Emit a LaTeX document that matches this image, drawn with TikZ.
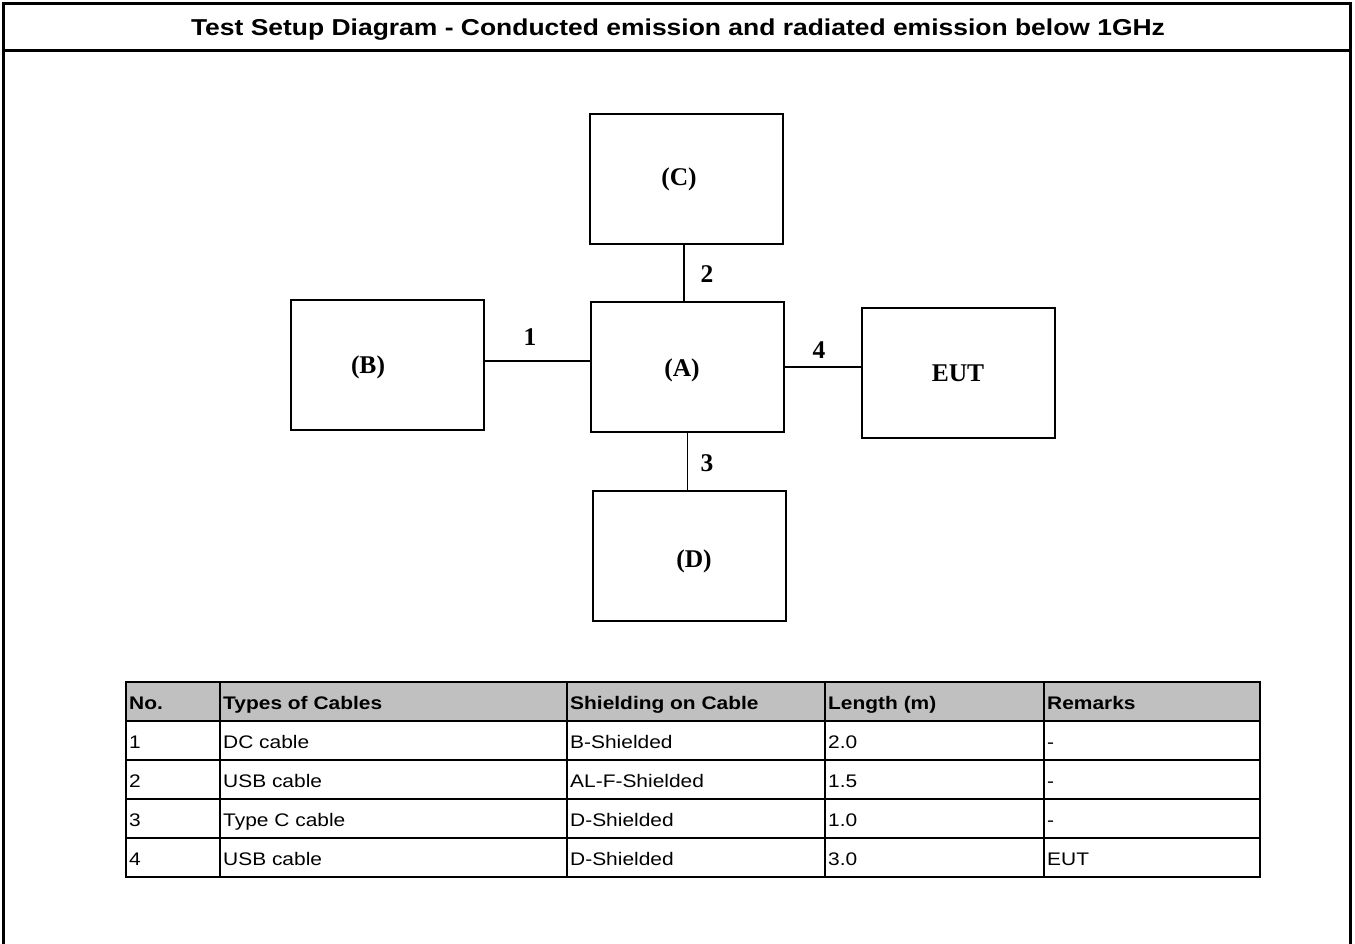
\documentclass[tikz,border=0pt]{standalone}
\usepackage{fontspec}
\setmainfont{Liberation Sans}[FakeStretch=1.15]
\newfontfamily\boxfont{Liberation Serif}
\usetikzlibrary{positioning,calc}
\definecolor{headgray}{RGB}{192,192,192}

\begin{document}
\begin{tikzpicture}[x=1pt,y=-1pt,
  unit/.style={draw, line width=2pt, minimum width=193pt, minimum height=130pt, inner sep=0pt},
  cable/.style={line width=1.6pt},
  tag/.style={inner sep=0pt, font=\boxfont\bfseries\fontsize{25.5}{30}\selectfont},
  rule/.style={line width=2pt},
  cell/.style={anchor=base west, inner sep=0pt, font=\fontsize{18.2}{22}\selectfont},
  headcell/.style={cell, font=\bfseries\fontsize{18.2}{22}\selectfont}]
\useasboundingbox (0,0) rectangle (1355,943);

% Frame and title
\draw[line width=3pt] (3,945) -- (3,3) -- (1350,3) -- (1350,945);
\draw[line width=3pt] (3,50) -- (1350,50);
\node[anchor=base, font=\bfseries\fontsize{23}{27}\selectfont] (title) at (678,35)
  {Test Setup Diagram - Conducted emission and radiated emission below 1GHz};

% Units
\node[unit] (C) at (686,179) {};
\node[unit] (B) at (387,365) {};
\node[unit] (A) at (687.5,367) {};
\node[unit] (EUT) at (958.5,373) {};
\node[unit] (D) at (689.5,555.5) {};

\node[tag] (Ctxt) at (679,179) {(C)};
\node[tag] (Btxt) at (368,367) {(B)};
\node[tag] (Atxt) at (682,370) {(A)};
\node[tag] (EUTtxt) at (958,373) {EUT};
\node[tag] (Dtxt) at (694,561) {(D)};

% Cables
\draw[cable] ([yshift=4]B.east) -- ([yshift=4]B.east -| A.west);
\draw[cable] ([xshift=-2]C.south) -- ([xshift=-2]C.south |- A.north);
\draw[cable] (A.south) -- (A.south |- D.north);
\draw[cable] (A.east) -- (A.east -| EUT.west);

\node[tag] (n1) at (530,337) {1};
\node[tag] (n2) at (707,274) {2};
\node[tag] (n3) at (707,463) {3};
\node[tag] (n4) at (819,350) {4};

% Cable table
\fill[headgray] (126,682) rectangle (1260,721);
\foreach \y in {682,721,...,877}
  \draw[rule] (125,\y) -- (1261,\y);
\foreach \x in {126,220,567,825,1044,1260}
  \draw[rule] (\x,682) -- (\x,877);

\node[headcell] (h1) at (129,709) {No.};
\node[headcell] (h2) at (223,709) {Types of Cables};
\node[headcell] (h3) at (570,709) {Shielding on Cable};
\node[headcell] (h4) at (828,709) {Length (m)};
\node[headcell] (h5) at (1047,709) {Remarks};

\foreach \no/\type/\shield/\len/\rem [count=\r] in
  {1/DC cable/B-Shielded/2.0/-,
   2/USB cable/AL-F-Shielded/1.5/-,
   3/Type C cable/D-Shielded/1.0/-,
   4/USB cable/D-Shielded/3.0/EUT}
{
  \node[cell] (r\r c1) at (129,709+39*\r) {\no};
  \node[cell] (r\r c2) at (223,709+39*\r) {\type};
  \node[cell] (r\r c3) at (570,709+39*\r) {\shield};
  \node[cell] (r\r c4) at (828,709+39*\r) {\len};
  \node[cell] (r\r c5) at (1047,709+39*\r) {\rem};
}
\end{tikzpicture}
\end{document}
